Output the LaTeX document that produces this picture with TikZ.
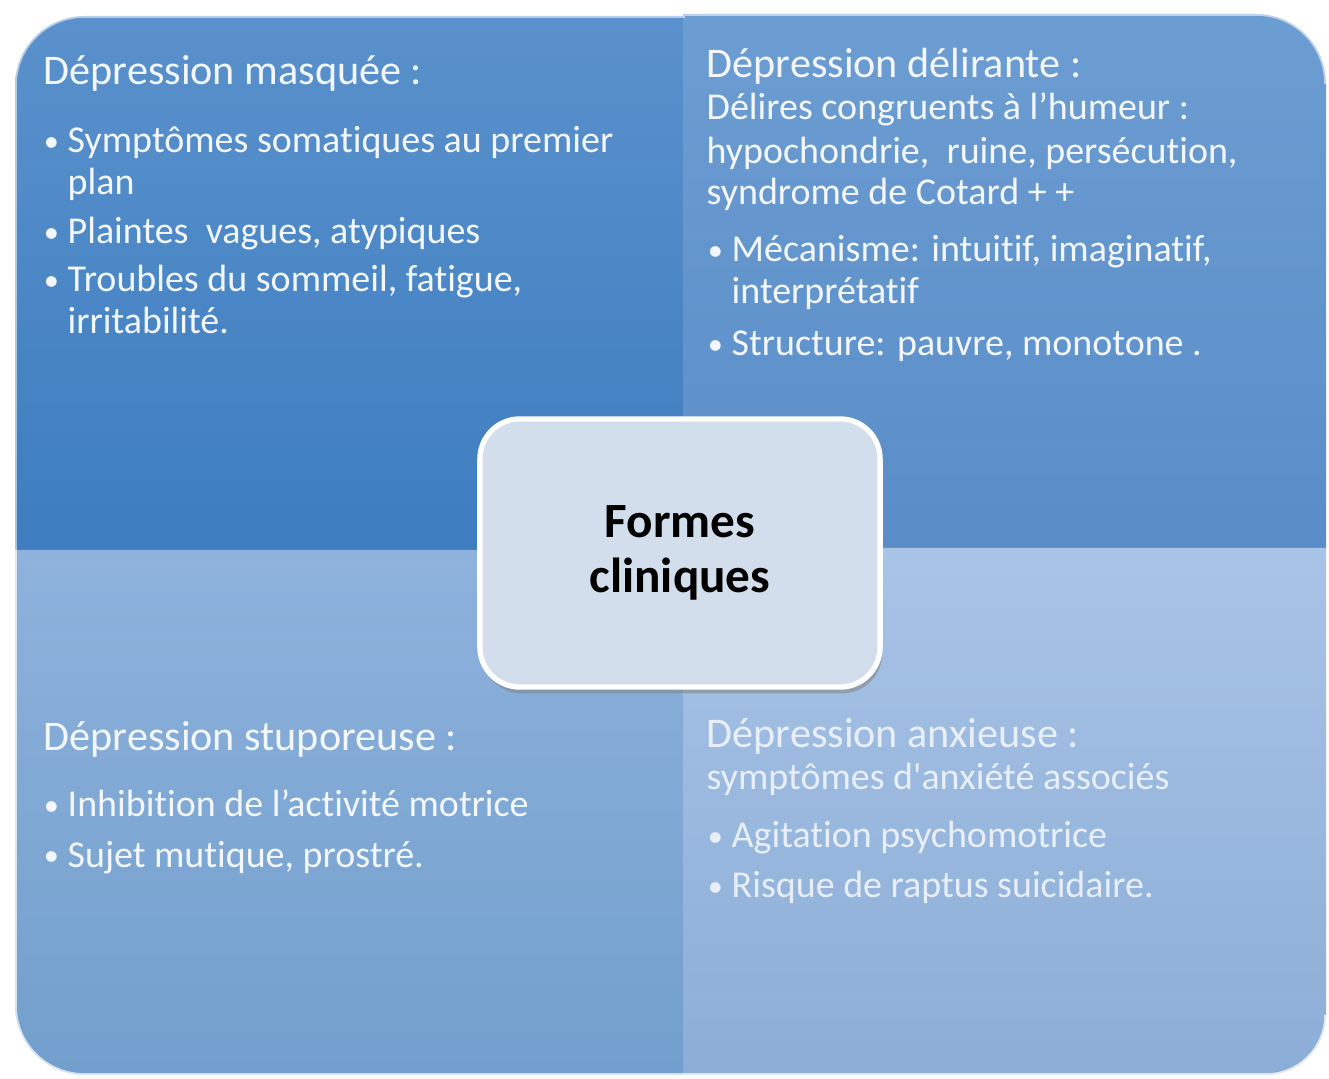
\documentclass[tikz,border=0pt]{standalone}
\usepackage{fontspec}
\setmainfont{Carlito}[Ligatures={NoCommon,TeXOff}]
\usetikzlibrary{shadows}

\definecolor{tlTop}{HTML}{5A91CC}
\definecolor{tlBot}{HTML}{3D7DC0}
\definecolor{trTop}{HTML}{6C9DD2}
\definecolor{trBot}{HTML}{5A8DC8}
\definecolor{blTop}{HTML}{8EB2DC}
\definecolor{blBot}{HTML}{729FCD}
\definecolor{brTop}{HTML}{A8C4E7}
\definecolor{brBot}{HTML}{8CADD6}
\definecolor{coreFill}{HTML}{D3DEED}
\definecolor{inkPale}{HTML}{F3F7FC}

\newcommand{\puce}{\makebox[0pt][r]{\raisebox{0.5pt}{\scalebox{0.8}{\textbullet}}\hspace{2.5pt}}}

\begin{document}
\begin{tikzpicture}[x=0.01cm,y=-0.01cm]
  \tikzstyle{head}=[anchor=base west,inner sep=0pt,text=inkPale,font=\fontsize{12}{14}\selectfont]
  \tikzstyle{body}=[anchor=base west,inner sep=0pt,text=inkPale,font=\fontsize{10.8}{12}\selectfont]
  \tikzstyle{core}=[rounded corners=4mm,fill=coreFill,draw=white,line width=1.5pt,
    minimum width=4cm,minimum height=2.68cm,align=center,
    font=\fontsize{14}{15.6}\selectfont\bfseries,
    drop shadow={opacity=0.5,shadow xshift=0.6pt,shadow yshift=-1.8pt}]
  \useasboundingbox (0,0) rectangle (1329,1079);

  % four quadrants
  \shade[top color=tlTop,bottom color=tlBot] (15,550) -- (15,86)
    .. controls (15,47) and (46,16) .. (85,16) -- (683,16) -- (683,550) -- cycle;
  \shade[top color=trTop,bottom color=trBot] (683,548) -- (683,14) -- (1256,14)
    .. controls (1295,14) and (1326,45) .. (1326,84) -- (1326,548) -- cycle;
  \shade[top color=blTop,bottom color=blBot] (683,550) -- (15,550) -- (15,1005)
    .. controls (15,1044) and (46,1075) .. (85,1075) -- (683,1075) -- cycle;
  \shade[top color=brTop,bottom color=brBot] (683,548) -- (1326,548) -- (1326,1015)
    .. controls (1326,1048) and (1299,1075) .. (1266,1075) -- (683,1075) -- cycle;
  \draw[white,opacity=0.55,line width=1pt] (15,550) -- (15,86)
    .. controls (15,47) and (46,16) .. (85,16) -- (683,16) -- (683,14) -- (1256,14)
    .. controls (1295,14) and (1326,45) .. (1326,84);
  \draw[white,opacity=0.7,line width=1pt] (15,550) -- (15,1005)
    .. controls (15,1044) and (46,1075) .. (85,1075) -- (1266,1075)
    .. controls (1299,1075) and (1326,1048) .. (1326,1015);

  % top left
  \node[head] (masq) at (43,85) {Dépression masquée :};
  \node[body] (masq1) at (67,153) {\puce Symptômes somatiques au premier};
  \node[body] (masq1b) at (67,195) {plan};
  \node[body] (masq2) at (67,244) {\puce Plaintes\ \ vagues, atypiques};
  \node[body] (masq3) at (67,292) {\puce Troubles du sommeil, fatigue,};
  \node[body] (masq3b) at (67,334) {irritabilité.};

  % top right
  \node[head] (deli) at (706,78) {Dépression délirante :};
  \node[body] (deliA) at (706,120) {Délires congruents à l’humeur :};
  \node[body] (deliB) at (706,164) {hypochondrie,\ \ ruine, persécution,};
  \node[body] (deliC) at (706,205) {syndrome de Cotard + +};
  \node[body] (deli1) at (731,262) {\puce Mécanisme: intuitif, imaginatif,};
  \node[body] (deli1b) at (731,304) {interprétatif};
  \node[body] (deli2) at (731,356) {\puce Structure: pauvre, monotone .};

  % bottom left
  \node[head] (stup) at (43,751) {Dépression stuporeuse :};
  \node[body] (stup1) at (67,817) {\puce Inhibition de l’activité motrice};
  \node[body] (stup2) at (67,867) {\puce Sujet mutique, prostré.};

  % bottom right
  \node[head,opacity=0.88] (anx) at (706,748) {Dépression anxieuse :};
  \node[body,opacity=0.88] (anxA) at (706,790) {symptômes d'anxiété associés};
  \node[body,opacity=0.88] (anx1) at (731,848) {\puce Agitation psychomotrice};
  \node[body,opacity=0.88] (anx2) at (731,898) {\puce Risque de raptus suicidaire.};

  % centre
  \node[core] (formes) at (680,553) {Formes\\cliniques};
\end{tikzpicture}
\end{document}
